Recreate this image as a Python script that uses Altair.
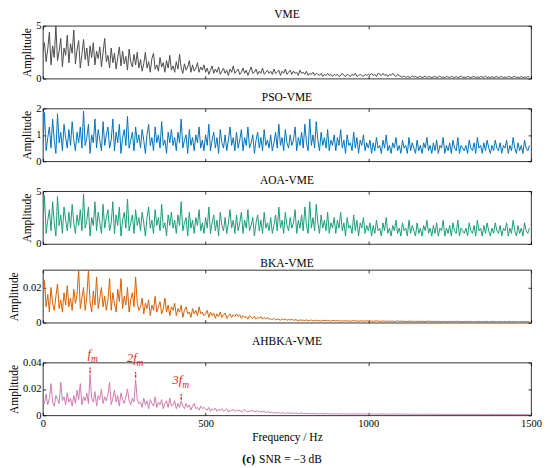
import altair as alt
import pandas as pd

STEP_HZ = 5.0
FONT = "Liberation Serif"

# amplitudes, one value every 5 Hz (0 ... 1495 Hz)
vme_values = [
    2.5, 3.4, 1.6, 2.8, 4.4, 1.3, 3.1, 2.0, 5.0, 1.7, 2.6, 3.8, 1.1, 2.9, 2.2, 4.1, 1.5, 3.3, 2.4, 4.6,
    1.4, 2.7, 3.6, 1.0, 2.3, 3.7, 1.8, 2.9, 1.2, 3.1, 2.0, 3.4, 1.3, 2.6, 1.9, 3.0, 1.1, 2.5, 3.8, 1.6,
    2.2, 1.0, 2.9, 1.5, 2.4, 0.9, 2.0, 3.0, 1.2, 2.6, 1.4, 2.1, 0.8, 2.8, 1.6, 1.1, 2.3, 1.3, 2.5, 1.0,
    1.8, 0.7, 1.4, 2.5, 1.0, 1.6, 0.6, 1.9, 2.4, 0.9, 1.3, 0.7, 2.0, 1.1, 1.5, 0.6, 1.7, 1.0, 2.2, 0.8,
    1.2, 0.6, 1.6, 0.9, 2.3, 1.0, 0.5, 1.4, 0.8, 1.1, 1.7, 0.6, 1.3, 0.7, 1.0, 1.5, 0.6, 1.1, 0.8, 1.3,
    0.6, 1.0, 0.4, 0.8, 1.2, 0.5, 0.9, 0.6, 1.1, 0.4, 0.7, 1.0, 0.5, 0.8, 0.3, 0.9, 0.6, 1.2, 0.5, 0.7,
    0.9, 0.4, 0.6, 1.0, 0.5, 0.8, 0.3, 0.7, 1.1, 0.5, 0.6, 0.9, 0.4, 0.7, 0.5, 1.0, 0.4, 0.6, 0.8, 0.5,
    0.7, 0.4, 0.9, 0.5, 0.6, 0.8, 0.3, 0.7, 0.5, 0.9, 0.4, 0.6, 0.8, 0.4, 0.7, 0.5, 0.6, 0.3, 0.8, 0.5,
    0.6, 0.4, 0.7, 0.3, 0.5, 0.4, 0.6, 0.3, 0.5, 0.4, 0.3, 0.5, 0.2, 0.4, 0.3, 0.5, 0.3, 0.4, 0.2, 0.4,
    0.3, 0.4, 0.2, 0.3, 0.5, 0.3, 0.2, 0.4, 0.3, 0.2, 0.4, 0.3, 0.5, 0.2, 0.3, 0.4, 0.3, 0.2, 0.4, 0.3,
    0.4, 0.3, 0.5, 0.3, 0.4, 0.2, 0.5, 0.4, 0.3, 0.5, 0.3, 0.4, 0.2, 0.4, 0.3, 0.5, 0.3, 0.2, 0.4, 0.3,
    0.2, 0.15, 0.25, 0.1, 0.2, 0.15, 0.1, 0.25, 0.15, 0.2, 0.1, 0.15, 0.2, 0.1, 0.15, 0.25, 0.1, 0.2, 0.15, 0.1,
    0.15, 0.2, 0.1, 0.15, 0.25, 0.1, 0.15, 0.1, 0.2, 0.15, 0.1, 0.2, 0.15, 0.1, 0.2, 0.1, 0.15, 0.25, 0.1, 0.15,
    0.1, 0.2, 0.15, 0.1, 0.15, 0.2, 0.1, 0.15, 0.1, 0.2, 0.15, 0.1, 0.25, 0.1, 0.15, 0.1, 0.2, 0.1, 0.15, 0.2,
    0.1, 0.15, 0.2, 0.1, 0.15, 0.1, 0.2, 0.15, 0.1, 0.15, 0.2, 0.1, 0.15, 0.1, 0.2, 0.1, 0.15, 0.1, 0.2, 0.15,
]

pso_values = [
    0.6, 1.85, 0.4, 0.9, 1.3, 0.5, 1.6, 0.8, 0.3, 1.8, 0.7, 1.1, 0.4, 1.4, 0.9, 0.5, 1.2, 0.6, 1.5, 0.8,
    0.4, 1.1, 0.7, 1.3, 0.5, 1.9, 0.6, 0.9, 1.4, 0.3, 1.0, 0.7, 1.6, 0.5, 1.2, 0.8, 0.4, 1.5, 0.6, 1.0,
    1.3, 0.5, 0.8, 1.6, 0.4, 1.1, 0.7, 1.4, 0.3, 0.9, 1.2, 0.6, 1.7, 0.5, 0.8, 1.1, 0.4, 1.3, 0.7, 1.0,
    0.5, 1.2, 0.8, 0.3, 1.0, 1.4, 0.6, 0.9, 0.4, 1.3, 0.7, 1.0, 0.5, 1.5, 0.6, 0.8, 0.3, 1.1, 0.7, 1.2,
    0.6, 0.9, 0.4, 1.1, 0.7, 1.6, 0.5, 0.8, 1.0, 0.3, 1.2, 0.6, 0.9, 0.4, 1.0, 0.7, 1.3, 0.5, 0.8, 0.4,
    1.0, 0.6, 1.4, 0.4, 0.8, 1.1, 0.5, 0.9, 0.3, 1.2, 0.7, 0.5, 1.0, 0.4, 0.8, 1.3, 0.6, 0.9, 0.4, 1.1,
    0.5, 0.8, 1.2, 0.4, 0.9, 0.6, 1.3, 0.5, 0.7, 1.0, 0.3, 0.8, 1.1, 0.5, 0.9, 0.4, 1.2, 0.6, 0.8, 0.5,
    1.0, 0.4, 0.7, 1.1, 0.5, 1.4, 0.6, 0.9, 0.4, 1.2, 0.7, 0.5, 1.0, 0.6, 0.8, 1.3, 0.4, 0.9, 0.6, 1.1,
    0.5, 1.4, 0.7, 0.4, 1.6, 0.6, 1.0, 0.5, 1.5, 0.8, 0.4, 1.1, 0.6, 0.9, 0.5, 1.2, 0.4, 0.8, 0.6, 1.0,
    0.4, 0.9, 0.6, 1.2, 0.5, 0.8, 0.3, 1.0, 0.6, 0.7, 0.4, 1.1, 0.5, 0.9, 0.3, 0.8, 0.6, 1.0, 0.4, 0.7,
    0.5, 0.8, 0.3, 0.7, 0.4, 0.9, 0.5, 0.6, 0.3, 0.8, 0.5, 1.0, 0.4, 0.6, 0.3, 0.7, 0.5, 0.9, 0.4, 0.6,
    0.3, 0.8, 0.5, 0.6, 0.3, 0.9, 0.4, 0.7, 0.5, 0.3, 0.8, 0.4, 0.6, 0.3, 0.7, 0.5, 0.9, 0.4, 0.6, 0.3,
    0.7, 0.4, 0.8, 0.3, 0.6, 0.5, 0.9, 0.3, 0.6, 0.4, 0.7, 0.3, 0.8, 0.5, 0.4, 0.9, 0.3, 0.6, 0.5, 0.4,
    0.6, 0.3, 0.8, 0.5, 0.4, 0.7, 0.3, 0.9, 0.5, 0.6, 0.3, 0.7, 0.4, 0.8, 0.5, 0.3, 0.6, 0.4, 0.8, 0.5,
    0.4, 0.7, 0.3, 0.6, 0.5, 0.8, 0.3, 0.6, 0.4, 0.9, 0.5, 0.3, 0.7, 0.4, 0.6, 0.3, 0.8, 0.5, 0.4, 0.6,
]

aoa_values = [
    1.5, 4.6, 1.0, 2.25, 3.25, 1.25, 4.0, 2.0, 0.75, 4.5, 1.75, 2.75, 1.0, 3.5, 2.25, 1.25, 3.0, 1.5, 3.75, 2.0,
    1.0, 2.75, 1.75, 3.25, 1.25, 4.75, 1.5, 2.25, 3.5, 0.75, 2.5, 1.75, 4.0, 1.25, 3.0, 2.0, 1.0, 3.75, 1.5, 2.5,
    3.25, 1.25, 2.0, 4.0, 1.0, 2.75, 1.75, 3.5, 0.75, 2.25, 3.0, 1.5, 4.25, 1.25, 2.0, 2.75, 1.0, 3.25, 1.75, 2.5,
    1.25, 3.0, 2.0, 0.75, 2.5, 3.5, 1.5, 2.25, 1.0, 3.25, 1.75, 2.5, 1.25, 3.75, 1.5, 2.0, 0.75, 2.75, 1.75, 3.0,
    1.5, 2.25, 1.0, 2.75, 1.75, 4.0, 1.25, 2.0, 2.5, 0.75, 3.0, 1.5, 2.25, 1.0, 2.5, 1.75, 3.25, 1.25, 2.0, 1.0,
    2.5, 1.5, 3.5, 1.0, 2.0, 2.75, 1.25, 2.25, 0.75, 3.0, 1.75, 1.25, 2.5, 1.0, 2.0, 3.25, 1.5, 2.25, 1.0, 2.75,
    1.25, 2.0, 3.0, 1.0, 2.25, 1.5, 3.25, 1.25, 1.75, 2.5, 0.75, 2.0, 2.75, 1.25, 2.25, 1.0, 3.0, 1.5, 2.0, 1.25,
    2.5, 1.0, 1.75, 2.75, 1.25, 3.5, 1.5, 2.25, 1.0, 3.0, 1.75, 1.25, 2.5, 1.5, 2.0, 3.25, 1.0, 2.25, 1.5, 2.75,
    1.25, 3.5, 1.75, 1.0, 4.0, 1.5, 2.5, 1.25, 3.75, 2.0, 1.0, 2.75, 1.5, 2.25, 1.25, 3.0, 1.0, 2.0, 1.5, 2.5,
    1.0, 2.25, 1.5, 3.0, 1.25, 2.0, 0.75, 2.5, 1.5, 1.75, 1.0, 2.75, 1.25, 2.25, 0.75, 2.0, 1.5, 2.5, 1.0, 1.75,
    1.25, 2.0, 0.75, 1.75, 1.0, 2.25, 1.25, 1.5, 0.75, 2.0, 1.25, 2.5, 1.0, 1.5, 0.75, 1.75, 1.25, 2.25, 1.0, 1.5,
    0.75, 2.0, 1.25, 1.5, 0.75, 2.25, 1.0, 1.75, 1.25, 0.75, 2.0, 1.0, 1.5, 0.75, 1.75, 1.25, 2.25, 1.0, 1.5, 0.75,
    1.75, 1.0, 2.0, 0.75, 1.5, 1.25, 2.25, 0.75, 1.5, 1.0, 1.75, 0.75, 2.0, 1.25, 1.0, 2.25, 0.75, 1.5, 1.25, 1.0,
    1.5, 0.75, 2.0, 1.25, 1.0, 1.75, 0.75, 2.25, 1.25, 1.5, 0.75, 1.75, 1.0, 2.0, 1.25, 0.75, 1.5, 1.0, 2.0, 1.25,
    1.0, 1.75, 0.75, 1.5, 1.25, 2.0, 0.75, 1.5, 1.0, 2.25, 1.25, 0.75, 1.75, 1.0, 1.5, 0.75, 2.0, 1.25, 1.0, 1.5,
]

# BKA-VME and AHBKA-VME amplitudes, written in units of 1e-4
bka_values_1e4 = [
    120, 240, 90, 160, 60, 200, 110, 70, 150, 220, 80, 130, 60, 170, 100, 210, 90, 140, 70, 190,
    110, 160, 300, 80, 140, 200, 70, 150, 300, 120, 60, 180, 100, 260, 80, 140, 200, 90, 150, 70,
    130, 250, 70, 170, 110, 60, 190, 120, 250, 80, 150, 100, 200, 60, 130, 170, 90, 260, 110, 70,
    90, 140, 50, 110, 80, 130, 40, 100, 70, 150, 60, 90, 120, 50, 80, 140, 60, 100, 40, 90,
    70, 110, 40, 80, 60, 100, 30, 70, 90, 50, 60, 30, 80, 50, 70, 40, 90, 50, 60, 40,
    50, 70, 30, 60, 40, 55, 25, 50, 35, 60, 30, 45, 55, 25, 40, 50, 30, 45, 35, 50,
    35, 45, 25, 40, 30, 35, 20, 40, 30, 25, 35, 20, 30, 25, 35, 20, 30, 22, 28, 20,
    22, 18, 25, 15, 20, 18, 14, 22, 16, 20, 14, 18, 15, 20, 13, 17, 15, 12, 16, 14,
    14, 12, 16, 10, 13, 15, 10, 12, 14, 10, 12, 9, 13, 11, 14, 10, 12, 9, 11, 13,
    10, 12, 9, 11, 8, 12, 10, 9, 11, 8, 10, 12, 9, 10, 8, 11, 9, 10, 8, 11,
    9, 8, 10, 7, 9, 11, 8, 9, 7, 10, 8, 9, 7, 10, 8, 9, 7, 8, 10, 8,
    8, 9, 7, 8, 6, 9, 8, 7, 9, 6, 8, 7, 9, 7, 8, 6, 8, 9, 7, 8,
    7, 8, 6, 8, 7, 6, 8, 7, 5, 8, 7, 6, 8, 6, 7, 8, 6, 7, 5, 7,
    6, 7, 8, 6, 7, 5, 7, 6, 8, 6, 5, 7, 6, 7, 5, 6, 8, 6, 7, 5,
    6, 7, 5, 6, 7, 5, 6, 8, 5, 6, 7, 5, 6, 5, 7, 6, 5, 7, 6, 5,
]

ahbka_values_1e4 = [
    110, 90, 160, 80, 130, 240, 100, 70, 150, 120, 90, 250, 110, 140, 80, 170, 100, 130, 70, 150,
    90, 190, 120, 240, 80, 140, 110, 170, 90, 310, 130, 100, 180, 70, 150, 120, 200, 90, 140, 110,
    160, 250, 80, 130, 190, 100, 150, 70, 170, 120, 90, 140, 200, 110, 80, 130, 100, 270, 120, 90,
    100, 60, 130, 80, 110, 50, 120, 90, 70, 140, 60, 100, 80, 120, 50, 90, 110, 60, 130, 70,
    80, 110, 50, 90, 60, 110, 70, 50, 90, 60, 80, 40, 70, 90, 50, 60, 40, 70, 50, 60,
    50, 40, 60, 30, 50, 40, 55, 30, 45, 35, 50, 30, 40, 50, 25, 40, 35, 45, 30, 40,
    35, 40, 25, 35, 45, 30, 25, 35, 30, 40, 25, 30, 35, 22, 30, 25, 32, 20, 28, 24,
    20, 24, 16, 20, 18, 22, 15, 18, 20, 14, 17, 19, 15, 18, 14, 16, 18, 13, 15, 17,
    14, 12, 15, 11, 13, 12, 14, 10, 13, 11, 12, 14, 10, 12, 11, 13, 10, 12, 11, 10,
    11, 12, 9, 11, 10, 12, 9, 10, 11, 9, 10, 12, 9, 11, 10, 9, 11, 10, 9, 10,
    10, 9, 11, 8, 10, 9, 8, 10, 9, 11, 8, 9, 10, 8, 9, 10, 8, 9, 10, 8,
    9, 8, 10, 8, 9, 7, 9, 8, 10, 8, 7, 9, 8, 9, 7, 8, 9, 7, 8, 9,
    8, 7, 9, 7, 8, 7, 9, 8, 6, 8, 7, 9, 7, 8, 6, 8, 7, 8, 6, 7,
    7, 8, 6, 7, 8, 6, 7, 8, 7, 6, 8, 7, 6, 7, 8, 6, 7, 6, 8, 7,
    7, 6, 8, 6, 7, 6, 7, 8, 6, 7, 6, 7, 5, 7, 6, 8, 6, 7, 6, 7,
]

panel_titles = ["VME", "PSO-VME", "AOA-VME", "BKA-VME", "AHBKA-VME"]
panel_colors = ["#4D4D4D", "#0072BD", "#1A9E77", "#D95F02", "#D27AAE"]
panel_domains = [[0, 5], [0, 2], [0, 5], [0, 0.03], [0, 0.04]]
panel_yticks = [[0, 5], [0, 1, 2], [0, 5], [0, 0.02], [0, 0.02, 0.04]]
x_ticks = [0, 500, 1000, 1500]

harmonic_freqs = [145.0, 285.0, 425.0]
harmonic_low = [0.0318, 0.0285, 0.0118]
harmonic_high = [0.0362, 0.0328, 0.0162]
harmonic_labels = ["f", "2f", "3f"]
caption_tag = "(c)"
caption_text = "SNR = \u22123 dB"

W, H = 490, 53
RED = "#E8202A"


def panel(idx, values, last):
    df = pd.DataFrame({"freq": [i * STEP_HZ for i in range(len(values))], "amp": values})
    xs = alt.Scale(domain=[0, 1500], nice=False, zero=False)
    ys = alt.Scale(domain=panel_domains[idx], nice=False)
    yt = panel_yticks[idx]
    base = alt.Chart(df)

    x_axis = dict(values=x_ticks, tickSize=0, domain=False, grid=False, labels=last, format="d",
                  labelFlush=False, labelPadding=3, titlePadding=3)
    if last:
        x_axis["title"] = "Frequency / Hz"
    else:
        x_axis["title"] = None
        x_axis["minExtent"] = 0
        x_axis["maxExtent"] = 0
    line = base.mark_line(color=panel_colors[idx], strokeWidth=1.0, clip=True).encode(
        x=alt.X("freq:Q", scale=xs, axis=alt.Axis(**x_axis)),
        y=alt.Y("amp:Q", scale=ys, axis=alt.Axis(values=yt, tickSize=0, domain=False, grid=False,
                                                 format="~g", labelFlush=False, labelPadding=2,
                                                 titlePadding=3, minExtent=0, title="Amplitude")),
    )
    tick_style = dict(tickSize=3, tickColor="black", tickWidth=0.8, labels=False,
                      domain=False, grid=False, title=None, minExtent=0, maxExtent=0)
    t1 = base.mark_line(opacity=0).encode(
        x=alt.X("freq:Q", scale=xs, axis=alt.Axis(orient="top", offset=-H, values=x_ticks, **tick_style)),
        y=alt.Y("amp:Q", scale=ys, axis=alt.Axis(orient="left", offset=-W, values=yt, **tick_style)),
    )
    t2 = base.mark_line(opacity=0).encode(
        x=alt.X("freq:Q", scale=xs, axis=alt.Axis(orient="bottom", offset=-H, values=x_ticks, **tick_style)),
        y=alt.Y("amp:Q", scale=ys, axis=alt.Axis(orient="right", offset=-W, values=yt, **tick_style)),
    )
    layers = [line, t1, t2]
    if last:
        hd = pd.DataFrame({"freq": harmonic_freqs, "lo": harmonic_low, "hi": harmonic_high,
                           "label": harmonic_labels})
        hb = alt.Chart(hd)
        rules = hb.mark_rule(color=RED, strokeWidth=1.3, strokeDash=[3, 1]).encode(
            x=alt.X("freq:Q", scale=xs, axis=None),
            y=alt.Y("lo:Q", scale=ys, axis=None),
            y2="hi:Q",
        )
        main_txt = hb.mark_text(color=RED, font=FONT, fontSize=12.5, fontStyle="italic",
                                align="right", baseline="alphabetic", dy=-10, dx=1).encode(
            x=alt.X("freq:Q", scale=xs, axis=None),
            y=alt.Y("hi:Q", scale=ys, axis=None),
            text="label:N",
        )
        sub_txt = hb.mark_text(color=RED, font=FONT, fontSize=9.5, fontStyle="italic",
                               align="left", baseline="alphabetic", dy=-6, dx=1, text="m").encode(
            x=alt.X("freq:Q", scale=xs, axis=None),
            y=alt.Y("hi:Q", scale=ys, axis=None),
        )
        cap_df = pd.DataFrame({"tag": [caption_tag], "txt": [caption_text]})
        cap1 = alt.Chart(cap_df).mark_text(font=FONT, fontSize=11.5, fontWeight="bold",
                                           align="right", baseline="middle").encode(
            text="tag:N", x=alt.value(213), y=alt.value(H + 45))
        cap2 = alt.Chart(cap_df).mark_text(font=FONT, fontSize=11.5,
                                           align="left", baseline="middle").encode(
            text="txt:N", x=alt.value(217), y=alt.value(H + 45))
        layers += [rules, main_txt, sub_txt, cap1, cap2]
    return alt.layer(*layers).resolve_axis(x="independent", y="independent").properties(
        width=W, height=H,
        title=alt.Title(panel_titles[idx], anchor="middle", frame="group", fontSize=11.5,
                        font=FONT, fontWeight="normal", color="black", offset=0),
    )


series = [
    vme_values,
    pso_values,
    aoa_values,
    [v / 10000 for v in bka_values_1e4],
    [v / 10000 for v in ahbka_values_1e4],
]
panels = [panel(i, v, i == 4) for i, v in enumerate(series)]

chart = alt.vconcat(*panels, spacing=7).properties(padding=0).configure_view(
    stroke="black", strokeWidth=0.8
).configure_axis(
    labelFont=FONT, titleFont=FONT, labelFontSize=10.5, titleFontSize=11.5,
    labelColor="black", titleColor="black", titleFontWeight="normal"
).configure_title(fontWeight="normal", font=FONT)

chart.save("out.html", embed_options={"renderer": "svg", "actions": False})
